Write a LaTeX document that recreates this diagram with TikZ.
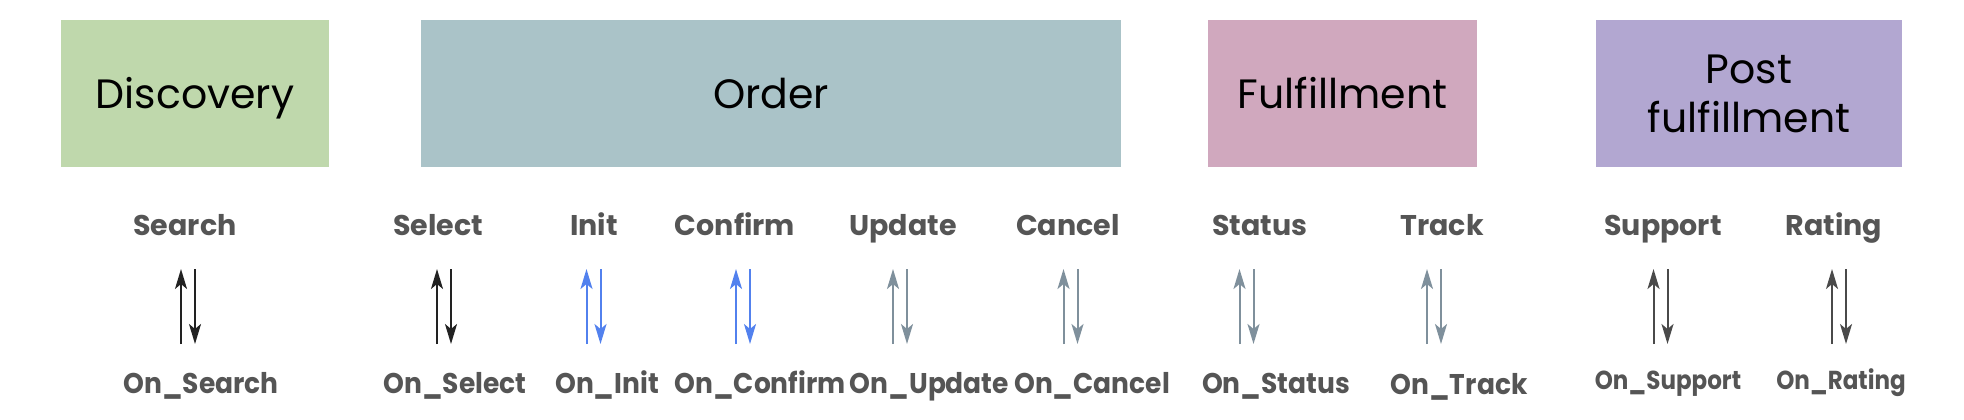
\documentclass[tikz,border=0pt]{standalone}
\usepackage{fontspec}
\usepackage{graphicx}
\setmainfont{Poppins}
\usetikzlibrary{arrows.meta}
\definecolor{cdisc}{HTML}{BFD8AC}
\definecolor{corder}{HTML}{AAC3C8}
\definecolor{cful}{HTML}{D0A8BE}
\definecolor{cpost}{HTML}{B2A7D1}
\definecolor{lbl}{HTML}{555555}
\definecolor{ablack}{HTML}{222222}
\definecolor{ablue}{HTML}{5281EE}
\definecolor{aslate}{HTML}{7F909C}
\definecolor{agray}{HTML}{4A4A4A}
\tikzset{
  phase/.style={fill=#1, draw=none, inner sep=0pt, align=center, text=black,
    font=\fontsize{41}{49}\selectfont, minimum height=147pt},
  oneline/.style={text height=29pt, text depth=0pt},
  lab/.style={text=lbl, inner sep=0pt, anchor=base},
  flow/.style={draw=#1, line width=2pt, -{Stealth[length=20pt,width=12pt,inset=5pt,#1]}},
}
\begin{document}
\begin{tikzpicture}[x=1pt,y=-1pt]
\useasboundingbox[fill=white] (0,0) rectangle (1964,420);
\node[phase=cdisc, oneline, minimum width=268pt] (discovery) at (195,93.5) {Discovery};
\node[phase=corder, oneline, minimum width=700pt] (order) at (771,93.5) {Order};
\node[phase=cful, oneline, minimum width=269pt] (fulfillment) at (1342.5,93.5) {Fulfillment};
\node[phase=cpost, minimum width=306pt] (post) at (1749,93.5) {Post\\fulfillment};
\foreach \n/\t/\cx/\ax/\c/\bt/\bx/\fs/\sx/\by in {
  search/Search/185/188/ablack/On\_Search/201/28.5/0.93/393,
  select/Select/438/444/ablack/On\_Select/455/28.5/0.93/393,
  init/Init/594/593.5/ablue/On\_Init/607/28.5/0.93/393,
  confirm/Confirm/735/743/ablue/On\_Confirm/760/28.5/0.93/393,
  update/Update/903/900/aslate/On\_Update/929.5/28.5/0.93/393,
  cancel/Cancel/1068/1070.5/aslate/On\_Cancel/1092/28.5/0.93/393,
  status/Status/1260/1246.5/aslate/On\_Status/1276/28.5/0.93/393,
  track/Track/1442/1434/aslate/On\_Track/1459/28.5/0.93/394,
  support/Support/1663/1660.5/agray/On\_Support/1668/26/0.885/389,
  rating/Rating/1834/1839/agray/On\_Rating/1841/26/0.885/389}{
  \node[lab, font=\fontsize{28.5}{34}\selectfont\bfseries] (\n) at (\cx,235) {\t};
  \node[lab, font=\fontsize{\fs}{34}\selectfont\bfseries] (on\n) at (\bx,\by) {\scalebox{\sx}[1]{\bt}};
  \coordinate (\n-t) at (\ax,269);
  \coordinate (\n-b) at (\ax,344);
  \draw[flow=\c] ([xshift=-7pt]\n-b) -- ([xshift=-7pt]\n-t);
  \draw[flow=\c] ([xshift=7pt]\n-t) -- ([xshift=7pt]\n-b);
}
\end{tikzpicture}
\end{document}
